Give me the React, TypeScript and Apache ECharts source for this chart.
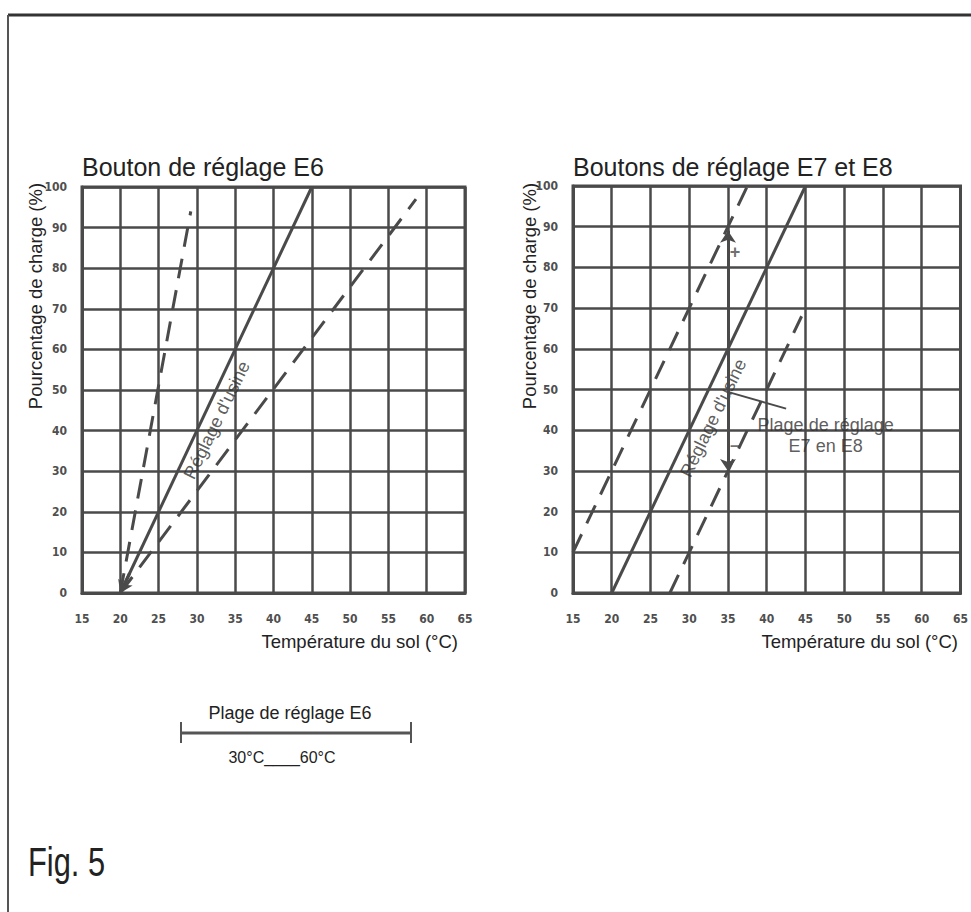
import React, { useEffect, useRef } from "react";
import * as echarts from "echarts";

// Axis ranges (°C and % of load)
const tempMin = 15;
const tempMax = 65;
const tempStep = 5;
const loadMin = 0;
const loadMax = 100;
const loadStep = 10;

// Chart 1: E6
const e6Factory = [[20, 0], [45, 100]];
const e6LowLimit = [[20, 0], [29.2, 94]];
const e6HighLimit = [[20, 0], [58.6, 97]];
const e6ArrowTail = [[21.2, 4.8], [20, 0]];
const e6FactoryLabelPos = [[32.6, 42.6]];

// Chart 2: E7 / E8
const e78Factory = [[20, 0], [45, 100]];
const e78LowLimit = [[15, 10], [37.5, 100]];
const e78HighLimit = [[27.5, 0], [44.5, 68]];
const e78RangeArrow = [[35, 30], [35, 89]];
const e78Leader = [[35.2, 49.3], [42.5, 45.3]];
const e78FactoryLabelPos = [[33.1, 43.0]];
const e78SignMarks = [[35.9, 83.7, "+"], [35.9, 36.3, "–"]];
const e78RangeLabelPos = [[47.6, 38.8]];

// Texts
const titleE6 = "Bouton de réglage E6";
const titleE78 = "Boutons de réglage E7 et E8";
const yName = "Pourcentage de charge (%)";
const xName = "Température du sol (°C)";
const factoryText = "Réglage d'usine";
const e78RangeText = "Plage de réglage\nE7 en E8";
const e6RangeTitle = "Plage de réglage E6";
const e6RangeValues = "30°C____60°C";
const figLabel = "Fig. 5";

const INK = "#4a4a4a";
const TEXT = "#222";
const FONT = "Liberation Sans, Arial, sans-serif";

function makeXAxis(gridIndex: number) {
  return {
    type: "value",
    gridIndex,
    min: tempMin,
    max: tempMax,
    interval: tempStep,
    axisLine: { show: true, lineStyle: { color: INK, width: 3 } },
    axisTick: { show: false },
    splitLine: { show: true, lineStyle: { color: INK, width: 2.5 } },
    axisLabel: {
      margin: 20,
      fontSize: 12,
      fontWeight: "bold",
      color: "#4f4f4f",
      fontFamily: "DejaVu Sans Condensed, DejaVu Sans",
    },
  };
}

function makeYAxis(gridIndex: number) {
  return {
    type: "value",
    gridIndex,
    min: loadMin,
    max: loadMax,
    interval: loadStep,
    axisLine: { show: true, lineStyle: { color: INK, width: 3 } },
    axisTick: { show: false },
    splitLine: { show: true, lineStyle: { color: INK, width: 2.5 } },
    axisLabel: {
      margin: 15,
      fontSize: 12,
      fontWeight: "bold",
      color: "#4f4f4f",
      fontFamily: "DejaVu Sans Condensed, DejaVu Sans",
    },
  };
}

function solidLine(idx: number, data: number[][], extra: any = {}) {
  return {
    type: "line",
    xAxisIndex: idx,
    yAxisIndex: idx,
    data,
    symbol: "none",
    silent: true,
    lineStyle: { color: INK, width: 3 },
    ...extra,
  };
}

function dashedLine(idx: number, data: number[][]) {
  return {
    type: "line",
    xAxisIndex: idx,
    yAxisIndex: idx,
    data,
    symbol: "none",
    silent: true,
    lineStyle: { color: INK, width: 3, type: [20, 12] },
  };
}

function textPoint(idx: number, data: any[], label: any) {
  return {
    type: "scatter",
    xAxisIndex: idx,
    yAxisIndex: idx,
    data,
    symbolSize: 0,
    silent: true,
    label: {
      show: true,
      position: "inside",
      color: TEXT,
      fontFamily: FONT,
      ...label,
    },
  };
}

export default function App() {
  const ref = useRef<HTMLDivElement>(null);

  useEffect(() => {
    if (!ref.current) return;
    const chart = echarts.init(ref.current, null, { renderer: "svg" });

    const option: any = {
      animation: false,
      backgroundColor: "#ffffff",
      grid: [
        { left: 82, top: 187, width: 383, height: 406, show: true, borderColor: INK, borderWidth: 3 },
        { left: 573, top: 186, width: 389, height: 407, show: true, borderColor: INK, borderWidth: 3 },
      ],
      xAxis: [makeXAxis(0), makeXAxis(1)],
      yAxis: [makeYAxis(0), makeYAxis(1)],
      series: [
        solidLine(0, e6Factory, {
          markLine: {
            silent: true,
            symbol: ["none", "arrow"],
            symbolSize: 12,
            label: { show: false },
            lineStyle: { color: INK, width: 3, type: "solid" },
            data: [[{ coord: e6ArrowTail[0] }, { coord: e6ArrowTail[1] }]],
          },
        }),
        dashedLine(0, e6LowLimit),
        dashedLine(0, e6HighLimit),
        textPoint(0, e6FactoryLabelPos, { formatter: factoryText, rotate: 64, fontSize: 18, color: "#333" }),

        solidLine(1, e78Factory, {
          markLine: {
            silent: true,
            symbol: "none",
            label: { show: false },
            lineStyle: { color: INK, width: 3, type: "solid" },
            data: [
              [
                { coord: e78RangeArrow[0], symbol: "arrow", symbolSize: 12 },
                { coord: e78RangeArrow[1], symbol: "arrow", symbolSize: 12 },
              ],
              [
                { coord: e78Leader[0], symbol: "none", lineStyle: { width: 2 } },
                { coord: e78Leader[1], symbol: "none" },
              ],
            ],
          },
        }),
        dashedLine(1, e78LowLimit),
        dashedLine(1, e78HighLimit),
        textPoint(1, e78FactoryLabelPos, { formatter: factoryText, rotate: 64, fontSize: 18, color: "#333" }),
        textPoint(
          1,
          e78SignMarks.map((d) => ({ value: [d[0], d[1]], label: { formatter: d[2] as string } })),
          { fontSize: 18, fontWeight: "bold", color: INK }
        ),
        textPoint(1, e78RangeLabelPos, {
          formatter: e78RangeText,
          fontSize: 18,
          lineHeight: 21,
          align: "center",
          color: "#333",
        }),
      ],
      graphic: [
        { type: "line", shape: { x1: 8, y1: 15, x2: 971, y2: 15 }, style: { stroke: "#333", lineWidth: 3 } },
        { type: "line", shape: { x1: 8, y1: 15, x2: 8, y2: 912 }, style: { stroke: "#555", lineWidth: 2 } },
        {
          type: "text",
          x: 82,
          y: 167,
          style: { text: titleE6, fontSize: 25, fill: TEXT, fontFamily: FONT, verticalAlign: "middle" },
        },
        {
          type: "text",
          x: 573,
          y: 167,
          style: { text: titleE78, fontSize: 25, fill: TEXT, fontFamily: FONT, verticalAlign: "middle" },
        },
        {
          type: "text",
          x: 35,
          y: 296,
          rotation: Math.PI / 2,
          style: { text: yName, fontSize: 18.5, fill: TEXT, fontFamily: FONT, align: "center", verticalAlign: "middle" },
        },
        {
          type: "text",
          x: 529,
          y: 296,
          rotation: Math.PI / 2,
          style: { text: yName, fontSize: 18.5, fill: TEXT, fontFamily: FONT, align: "center", verticalAlign: "middle" },
        },
        {
          type: "text",
          x: 458,
          y: 641,
          style: { text: xName, fontSize: 18.5, fill: TEXT, fontFamily: FONT, align: "right", verticalAlign: "middle" },
        },
        {
          type: "text",
          x: 958,
          y: 641,
          style: { text: xName, fontSize: 18.5, fill: TEXT, fontFamily: FONT, align: "right", verticalAlign: "middle" },
        },
        { type: "line", shape: { x1: 181, y1: 733, x2: 411, y2: 733 }, style: { stroke: "#555", lineWidth: 3 } },
        { type: "line", shape: { x1: 181, y1: 722, x2: 181, y2: 743 }, style: { stroke: "#555", lineWidth: 2 } },
        { type: "line", shape: { x1: 411, y1: 722, x2: 411, y2: 743 }, style: { stroke: "#555", lineWidth: 2 } },
        {
          type: "text",
          x: 290,
          y: 713,
          style: { text: e6RangeTitle, fontSize: 18, fill: TEXT, fontFamily: FONT, align: "center", verticalAlign: "middle" },
        },
        {
          type: "text",
          x: 282,
          y: 757,
          style: { text: e6RangeValues, fontSize: 16, fill: TEXT, fontFamily: FONT, align: "center", verticalAlign: "middle" },
        },
        {
          type: "text",
          x: 28,
          y: 863,
          scaleX: 0.77,
          style: { text: figLabel, fontSize: 40, fill: TEXT, fontFamily: FONT, align: "left", verticalAlign: "middle" },
        },
      ],
    };

    chart.setOption(option);
    return () => chart.dispose();
  }, []);

  return (
    <div
      ref={ref}
      style={{ position: "fixed", left: 0, top: 0, width: 971, height: 912, background: "#fff" }}
    />
  );
}
